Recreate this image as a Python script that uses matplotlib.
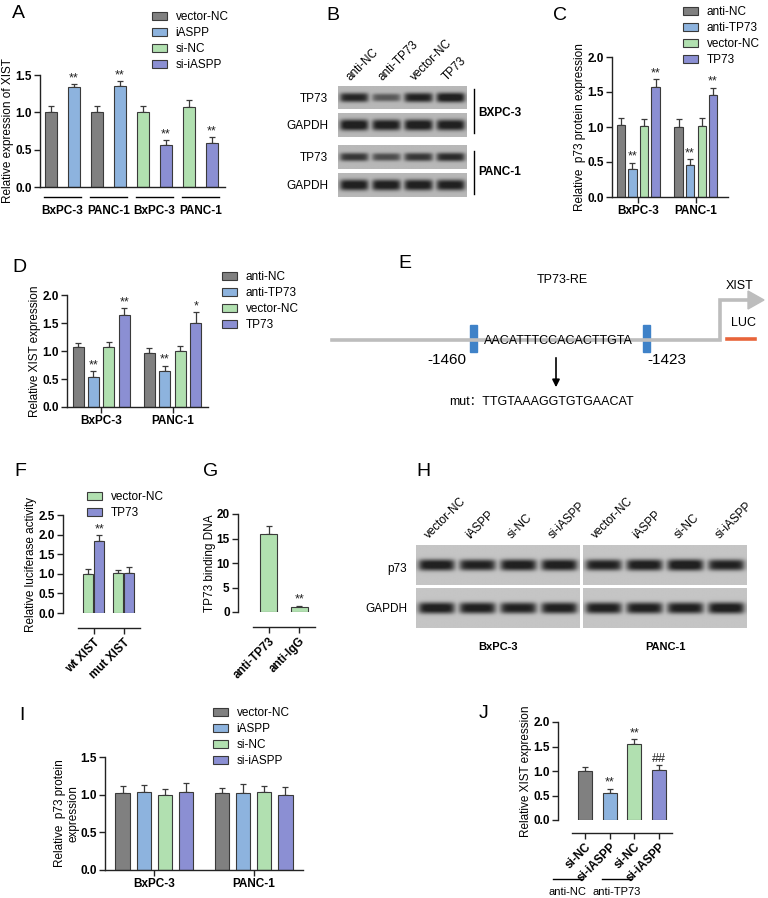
import numpy as np
import matplotlib
matplotlib.use("Agg")
import matplotlib.pyplot as plt
import matplotlib.transforms as mtransforms
from matplotlib.patches import Patch, Rectangle, Polygon

plt.rcParams["font.family"] = ["Liberation Sans", "Noto Sans CJK SC", "DejaVu Sans"]

# ---- data -----------------------------------------------------------------
# A: XIST after iASPP overexpression / knockdown
a_groups = ["BxPC-3", "PANC-1", "BxPC-3", "PANC-1"]
a_legend = ["vector-NC", "iASPP", "si-NC", "si-iASPP"]
a_labels = ["vector-NC", "iASPP", "vector-NC", "iASPP", "si-NC", "si-iASPP", "si-NC", "si-iASPP"]
a_mean = [1.01, 1.34, 1.00, 1.35, 1.00, 0.56, 1.07, 0.59]
a_err = [0.08, 0.04, 0.08, 0.07, 0.08, 0.07, 0.09, 0.08]
a_sig = ["", "**", "", "**", "", "**", "", "**"]

# B: western blot TP73
b_lanes = ["anti-NC", "anti-TP73", "vector-NC", "TP73"]
b_tp73_bx = [0.85, 0.55, 0.88, 0.95]
b_gapdh_bx = [0.95, 0.92, 0.95, 0.92]
b_tp73_pa = [0.75, 0.62, 0.75, 0.82]
b_gapdh_pa = [0.92, 0.92, 0.92, 0.90]

# C: p73 protein
tp_groups = ["BxPC-3", "PANC-1"]
tp_series = ["anti-NC", "anti-TP73", "vector-NC", "TP73"]
c_mean = [[1.03, 0.40, 1.01, 1.57], [1.00, 0.46, 1.01, 1.46]]
c_err = [[0.10, 0.09, 0.11, 0.11], [0.12, 0.08, 0.12, 0.10]]
c_sig = [["", "**", "", "**"], ["", "**", "", "**"]]

# D: XIST expression
d_mean = [[1.08, 0.53, 1.08, 1.64], [0.97, 0.65, 1.00, 1.50]]
d_err = [[0.07, 0.11, 0.08, 0.12], [0.08, 0.09, 0.09, 0.19]]
d_sig = [["", "**", "", "**"], ["", "**", "", "*"]]

# F: luciferase
f_groups = ["wt XIST", "mut XIST"]
f_series = ["vector-NC", "TP73"]
f_mean = [[1.00, 1.84], [1.01, 1.03]]
f_err = [[0.11, 0.15], [0.08, 0.15]]
f_sig = [["", "**"], ["", ""]]

# G: ChIP
g_labels = ["anti-TP73", "anti-IgG"]
g_mean = [16.0, 1.04]
g_err = [1.5, 0.2]
g_sig = ["", "**"]

# H: western blot p73
h_lanes = ["vector-NC", "iASPP", "si-NC", "si-iASPP"]
h_cells = ["BxPC-3", "PANC-1"]
h_p73 = [[0.92, 0.88, 0.92, 0.92], [0.88, 0.92, 0.95, 0.88]]
h_gapdh = [[0.92, 0.90, 0.88, 0.90], [0.90, 0.90, 0.90, 0.93]]

# I: p73 protein after iASPP
i_mean = [[1.02, 1.035, 0.99, 1.035], [1.02, 1.02, 1.035, 0.99]]
i_err = [[0.09, 0.095, 0.09, 0.12], [0.07, 0.12, 0.085, 0.115]]

# J: rescue
j_labels = ["si-NC", "si-iASPP", "si-NC", "si-iASPP"]
j_groups = ["anti-NC", "anti-TP73"]
j_mean = [1.00, 0.56, 1.55, 1.02]
j_err = [0.09, 0.08, 0.10, 0.11]
j_sig = ["", "**", "**", "##"]

# ---- style ----------------------------------------------------------------
W, H = 768, 898
PAL = ["#808080", "#8db3de", "#b1e0b0", "#8b8fd3"]
EDGE = "#3a3a3a"
AX = "#222222"
YPAD = 0.5

fig = plt.figure(figsize=(W / 100, H / 100), dpi=100)
ov = fig.add_axes([0, 0, 1, 1])
ov.axis("off")


def add_ax(x0, x1, ytop, ybot):
    return fig.add_axes([x0 / W, 1 - ybot / H, (x1 - x0) / W, (ybot - ytop) / H])


def style(ax, ymax, ystep, fmt="{:.1f}"):
    ax.set_ylim(0, ymax)
    ticks = np.arange(0, ymax + ystep / 2, ystep)
    ax.set_yticks(ticks)
    ax.set_yticklabels([fmt.format(t) for t in ticks], fontweight="bold")
    ax.spines[["top", "right"]].set_visible(False)
    for s in ["left", "bottom"]:
        ax.spines[s].set_linewidth(1.0)
        ax.spines[s].set_color(AX)
    ax.tick_params(axis="both", length=4, width=1.0, labelsize=8.5, pad=2, color=AX)
    ax.patch.set_visible(False)


def bars(ax, x, mean, err, colors, width, sig=None):
    ax.errorbar(x, mean, yerr=[np.zeros(len(err)), err], fmt="none", ecolor=EDGE,
                elinewidth=0.9, capsize=2.2, capthick=0.9, zorder=1)
    ax.bar(x, mean, width, color=colors, edgecolor=EDGE, linewidth=0.8, zorder=2)
    if sig:
        for xi, m, e, s in zip(x, mean, err, sig):
            if s:
                ax.annotate(s, (xi, m + e), xytext=(0, 0), textcoords="offset points",
                            ha="center", va="bottom", fontsize=9, color=AX)


def legend(ax, labels, colors, x, y):
    handles = [Patch(facecolor=c, edgecolor=EDGE, linewidth=0.8) for c in colors]
    ax.legend(handles, labels, loc="upper left", bbox_to_anchor=(x / W, 1 - y / H),
              bbox_transform=fig.transFigure, frameon=False, fontsize=8.5,
              handlelength=1.3, handleheight=0.7, handletextpad=0.7,
              labelspacing=0.35, borderpad=0, borderaxespad=0)


def grouped(n_groups, n_series, gap):
    return [g * gap + np.arange(n_series) for g in range(n_groups)]


def letter(x, y, s):
    fig.text(x / W, 1 - y / H, s, fontsize=14, ha="center", va="center")


def blot(x0, x1, y0, y1, intens, thick, bg=0.72, dark=0.13):
    nx, ny = 320, 64
    xs = np.linspace(0, 1, nx)[None, :]
    ys = np.linspace(0, 1, ny)[:, None]
    n = len(intens)
    img = np.zeros((ny, nx))
    for i, v in enumerate(intens):
        c = (i + 0.5) / n
        hw = 0.42 / n
        px = 1 / (1 + np.exp(-(xs - (c - hw)) / 0.012)) / (1 + np.exp((xs - (c + hw)) / 0.012))
        py = np.exp(-(np.abs(ys - 0.5) / (thick * (0.55 + 0.45 * v))) ** 3)
        img = np.maximum(img, v * px * py)
    img = bg - (bg - dark) * np.clip(img * 1.15, 0, 1)
    ov.imshow(img, extent=(x0, x1, y1, y0), cmap="gray", vmin=0, vmax=1,
              interpolation="bilinear", aspect="auto", zorder=0)


# ---- A --------------------------------------------------------------------
axA = add_ax(40, 225, 75, 187)
xa = np.arange(len(a_mean))
bars(axA, xa, a_mean, a_err, [PAL[a_legend.index(l)] for l in a_labels], 0.52, a_sig)
style(axA, 1.5, 0.5)
axA.set_xlim(-0.48, 7.57)
axA.set_xticks(xa[::2] + 0.5)
axA.set_xticklabels(a_groups, fontweight="bold")
axA.tick_params(axis="x", length=0, pad=13)
trA = mtransforms.blended_transform_factory(axA.transData, axA.transAxes)
for g in xa[::2]:
    axA.plot([g - 0.3, g + 1.3], [-10 / 112] * 2, transform=trA, clip_on=False, color="k", lw=1)
axA.set_ylabel("Relative expression of XIST", fontsize=8.5, labelpad=YPAD)
legend(axA, a_legend, PAL, 152, 11)
letter(18, 14, "A")

# ---- B (blot) -------------------------------------------------------------
letter(333, 15, "B")
bx0, bx1 = 338, 467
rows_b = [("TP73", 86, 109, b_tp73_bx, 0.22), ("GAPDH", 113, 137, b_gapdh_bx, 0.24),
          ("TP73", 145, 169, b_tp73_pa, 0.2), ("GAPDH", 173, 197, b_gapdh_pa, 0.24)]
for name, y0, y1, vals, th in rows_b:
    blot(bx0, bx1, y0, y1, vals, th)
    ov.text(328, (y0 + y1) / 2 + 1, name, ha="right", va="center", fontsize=8.5)
lw_b = (bx1 - bx0) / len(b_lanes)
for i, lab in enumerate(b_lanes):
    ov.text(bx0 + (i + 0.5) * lw_b - 2, 83, lab, rotation=45, ha="left", va="bottom",
            rotation_mode="anchor", fontsize=8.5)
ov.plot([474, 474], [89, 133], color="k", lw=1)
ov.plot([474, 474], [151, 194], color="k", lw=1)
ov.text(478, 113, "BXPC-3", fontsize=8.5, fontweight="bold", va="center")
ov.text(478, 172, "PANC-1", fontsize=8.5, fontweight="bold", va="center")

# ---- C --------------------------------------------------------------------
axC = add_ax(612, 728, 57, 197)
pos = grouped(2, 4, 5)
for g in range(2):
    bars(axC, pos[g], c_mean[g], c_err[g], PAL, 0.7, c_sig[g])
style(axC, 2.0, 0.5)
axC.set_xlim(-0.78, 9.3)
axC.set_xticks([p.mean() for p in pos])
axC.set_xticklabels(tp_groups, fontweight="bold")
axC.set_ylabel("Relative  p73 protein expression", fontsize=8.5, labelpad=YPAD)
legend(axC, tp_series, PAL, 683, 6)
letter(560, 15, "C")

# ---- D --------------------------------------------------------------------
axD = add_ax(67, 208, 295, 407)
pos = grouped(2, 4, 4.6)
for g in range(2):
    bars(axD, pos[g], d_mean[g], d_err[g], PAL, 0.71, d_sig[g])
style(axD, 2.0, 0.5)
axD.set_xlim(-0.71, 8.39)
axD.set_xticks([p.mean() for p in pos])
axD.set_xticklabels(tp_groups, fontweight="bold")
axD.set_ylabel("Relative XIST expression", fontsize=8.5, labelpad=YPAD)
legend(axD, tp_series, PAL, 222, 271)
letter(19, 267, "D")

# ---- E (promoter diagram) -------------------------------------------------
letter(405, 263, "E")
LG = "#bdbdbd"
ov.plot([332, 720, 720, 750], [340, 340, 300, 300], color=LG, lw=2.6, solid_joinstyle="miter")
ov.add_patch(Polygon([[748, 291], [764, 300], [748, 309]], closed=True, color=LG))
ov.add_patch(Rectangle((470, 325), 7, 27, color="#3f82c8"))
ov.add_patch(Rectangle((643, 325), 7, 27, color="#3f82c8"))
ov.text(558, 341, "AACATTTCCACACTTGTA", ha="center", va="center", fontsize=9)
ov.text(562, 280, "TP73-RE", ha="center", va="center", fontsize=9)
ov.text(447, 360, "-1460", ha="center", va="center", fontsize=11)
ov.text(667, 360, "-1423", ha="center", va="center", fontsize=11)
ov.text(740, 286, "XIST", ha="center", va="center", fontsize=9)
ov.text(743, 323, "LUC", ha="center", va="center", fontsize=9)
ov.plot([727, 755], [339, 339], color="#e8643a", lw=2.6)
ov.annotate("", xy=(556, 390), xytext=(556, 355),
            arrowprops=dict(arrowstyle="-|>", color="k", lw=1.2, mutation_scale=11))
ov.text(449, 402, "mut：TTGTAAAGGTGTGAACAT", ha="left", va="center", fontsize=9)

# ---- F --------------------------------------------------------------------
axF = add_ax(63, 140, 515, 613)
pos = grouped(2, 2, 2.6)
for g in range(2):
    bars(axF, pos[g], f_mean[g], f_err[g], PAL[2:], 0.87, f_sig[g])
style(axF, 2.5, 0.5)
axF.set_xlim(-2.17, 4.52)
axF.spines["bottom"].set_position(("outward", 10.8))
axF.spines["bottom"].set_bounds(-0.87, 4.52)
axF.set_xticks([p.mean() for p in pos])
axF.set_xticklabels(f_groups, fontweight="bold", rotation=45, ha="right", va="top",
                    rotation_mode="anchor")
axF.set_ylabel("Relative luciferase activity", fontsize=8.5, labelpad=YPAD)
legend(axF, f_series, PAL[2:], 87, 491)
letter(20, 472, "F")

# ---- G --------------------------------------------------------------------
axG = add_ax(238, 315, 514, 612)
xg = np.arange(len(g_mean))
bars(axG, xg, g_mean, g_err, [PAL[2]] * len(g_mean), 0.55, g_sig)
style(axG, 20, 5, "{:.0f}")
axG.set_xlim(-1.0, 1.52)
axG.spines["bottom"].set_position(("outward", 10.8))
axG.spines["bottom"].set_bounds(-0.51, 1.52)
axG.set_xticks(xg)
axG.set_xticklabels(g_labels, fontweight="bold", rotation=45, ha="right", va="top",
                    rotation_mode="anchor")
axG.set_ylabel("TP73 binding DNA", fontsize=8.5, labelpad=YPAD)
letter(211, 472, "G")

# ---- H (blot) -------------------------------------------------------------
letter(423, 472, "H")
halves = [(416, 580), (583, 747)]
for k, (x0, x1) in enumerate(halves):
    blot(x0, x1, 545, 585, h_p73[k], 0.15, bg=0.77)
    blot(x0, x1, 588, 628, h_gapdh[k], 0.15, bg=0.77)
    lw_h = (x1 - x0) / len(h_lanes)
    for i, lab in enumerate(h_lanes):
        ov.text(x0 + (i + 0.5) * lw_h - 5, 541, lab, rotation=45, ha="left", va="bottom",
                rotation_mode="anchor", fontsize=8.5)
    ov.text((x0 + x1) / 2, 647, h_cells[k], ha="center", va="center", fontsize=8, fontweight="bold")
ov.text(407, 569, "p73", ha="right", va="center", fontsize=8.5)
ov.text(407, 609, "GAPDH", ha="right", va="center", fontsize=8.5)

# ---- I --------------------------------------------------------------------
axI = add_ax(105, 303, 757, 870)
pos = grouped(2, 4, 4.67)
for g in range(2):
    bars(axI, pos[g], i_mean[g], i_err[g], PAL, 0.68)
style(axI, 1.5, 0.5)
axI.set_xlim(-0.83, 8.5)
axI.set_xticks([p.mean() for p in pos])
axI.set_xticklabels(tp_groups, fontweight="bold")
axI.set_ylabel("Relative  p73 protein\nexpression", fontsize=8.5, labelpad=YPAD)
legend(axI, a_legend, PAL, 213, 707)
letter(22, 716, "I")

# ---- J --------------------------------------------------------------------
axJ = add_ax(558, 672, 722, 820)
xj = np.arange(len(j_mean))
bars(axJ, xj, j_mean, j_err, PAL, 0.57, j_sig)
style(axJ, 2.0, 0.5)
axJ.set_xlim(-1.09, 3.52)
axJ.spines["bottom"].set_position(("outward", 9.4))
axJ.spines["bottom"].set_bounds(-0.53, 3.52)
axJ.set_xticks(xj)
axJ.set_xticklabels(j_labels, fontweight="bold", rotation=45, ha="right", va="top",
                    rotation_mode="anchor")
axJ.set_ylabel("Relative XIST expression", fontsize=8.5, labelpad=YPAD)
trJ = mtransforms.blended_transform_factory(axJ.transData, axJ.transAxes)
for k, name in enumerate(j_groups):
    a, b = xj[2 * k] - 1.3, xj[2 * k + 1] - 1.12
    axJ.plot([a, b], [-0.602] * 2, transform=trJ, clip_on=False, color="k", lw=1)
    axJ.text((a + b) / 2, -0.73, name, transform=trJ, ha="center", va="center", fontsize=8)
letter(484, 713, "J")

ov.set_xlim(0, W)
ov.set_ylim(H, 0)
fig.savefig("out.png", dpi=100)
